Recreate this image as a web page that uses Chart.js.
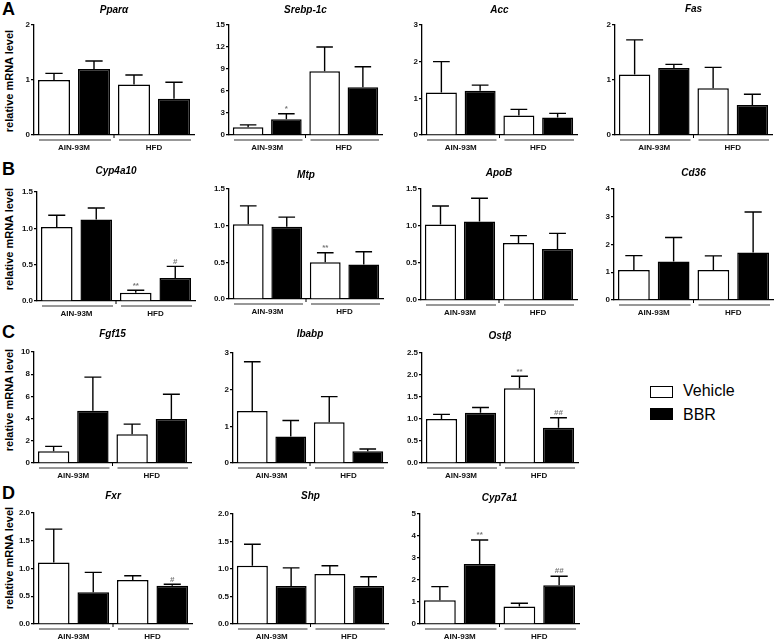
<!DOCTYPE html>
<html><head><meta charset="utf-8">
<script src="https://cdn.jsdelivr.net/npm/chart.js@4.4.0/dist/chart.umd.min.js"></script>
<style>
html,body{margin:0;padding:0;background:#fff;width:775px;height:641px;overflow:hidden;position:relative;font-family:"Liberation Sans",Arial,sans-serif;color:#000;}
canvas{position:absolute;}
.letter{position:absolute;font-weight:bold;font-size:18px;line-height:18px;}
.ytitle{position:absolute;font-weight:bold;font-size:11px;line-height:11px;white-space:nowrap;transform:translate(-50%,-50%) rotate(-90deg);}
.lg{position:absolute;font-size:16px;line-height:16px;}
.box{position:absolute;width:23px;height:12px;border:1.5px solid #000;box-sizing:border-box;}
</style></head><body>
<div class="letter" style="left:2px;top:0px">A</div>
<div class="letter" style="left:2px;top:160px">B</div>
<div class="letter" style="left:2px;top:323px">C</div>
<div class="letter" style="left:2px;top:484px">D</div>
<div class="ytitle" style="left:9px;top:81px">relative mRNA level</div>
<div class="ytitle" style="left:9px;top:239px">relative mRNA level</div>
<div class="ytitle" style="left:9px;top:400px">relative mRNA level</div>
<div class="ytitle" style="left:9px;top:558px">relative mRNA level</div>
<div class="box" style="left:650px;top:386px;background:#fff"></div>
<div class="lg" style="left:683px;top:383px">Vehicle</div>
<div class="box" style="left:650px;top:408px;background:#000"></div>
<div class="lg" style="left:683px;top:407px">BBR</div>
<script>
// ---------- data ----------
const groups = ["AIN-93M", "HFD"];
const series = ["Vehicle", "BBR"];
const genes = ["Pparα","Srebp-1c","Acc","Fas","Cyp4a10","Mtp","ApoB","Cd36","Fgf15","Ibabp","Ostβ","Fxr","Shp","Cyp7a1"];
const vehicleMean = [[1.00,0.92],[1.06,8.7],[1.16,0.53],[1.10,0.85],[1.02,0.115],[1.02,0.50],[1.02,0.77],[1.08,1.08],[1.05,2.6],[1.42,1.11],[1.00,1.70],[1.11,0.795],[1.06,0.91],[1.075,0.80]];
const vehicleSem  = [[0.12,0.17],[0.32,3.3],[0.84,0.17],[0.63,0.38],[0.16,0.032],[0.25,0.13],[0.25,0.10],[0.52,0.51],[0.45,0.9],[1.34,0.70],[0.105,0.27],[0.60,0.075],[0.39,0.15],[0.625,0.14]];
const bbrMean     = [[1.20,0.66],[2.16,6.5],[1.21,0.48],[1.22,0.545],[1.12,0.317],[0.986,0.47],[1.06,0.69],[1.39,1.71],[4.71,3.96],[0.72,0.32],[1.143,0.80],[0.57,0.69],[0.69,0.69],[2.73,1.76]];
const bbrSem      = [[0.145,0.30],[0.73,2.8],[0.15,0.11],[0.065,0.195],[0.16,0.16],[0.13,0.175],[0.315,0.21],[0.86,1.46],[3.03,2.24],[0.44,0.06],[0.117,0.23],[0.36,0.025],[0.33,0.17],[1.09,0.41]];
const vehicleMarks= [["",""],["",""],["",""],["",""],["","**"],["","**"],["",""],["",""],["",""],["",""],["","**"],["",""],["",""],["",""]];
const bbrMarks    = [["",""],["*",""],["",""],["",""],["","#"],["",""],["",""],["",""],["",""],["",""],["","##"],["","#"],["",""],["**","##"]];
const yMax  = [2,15,3,2,1.5,1.5,1.5,4,10,3,2.5,2,2,5];
const yStep = [1,3,1,1,0.5,0.5,0.5,1,2,1,0.5,0.5,0.5,1];

// ---------- layout (plot-area placement on the page) ----------
const layout = [
 {x:34,r:194,t:25,b:135,ty:10},{x:229,r:382,t:25,b:135,ty:10},{x:422,r:577,t:25,b:135,ty:10},{x:615,r:772,t:25,b:135,ty:9},
 {x:37,r:195,t:192,b:301,ty:171},{x:229,r:383,t:189,b:299,ty:175},{x:421,r:577,t:189,b:300,ty:173},{x:614,r:773,t:189,b:300,ty:173},
 {x:34,r:191,t:352,b:463,ty:334},{x:233,r:387,t:353,b:463,ty:334},{x:422,r:578,t:353,b:463,ty:336},
 {x:34,r:192,t:513,b:624,ty:496},{x:233,r:388,t:514,b:624,ty:496},{x:420,r:579,t:514,b:624,ty:498}
];
const FONT = '"Liberation Sans", Arial, sans-serif';
const YW = 30, PT = 28, XH = 18, PR = 2, PB = 10;

function makePlugin(i, canvasTop){
  return {
    id:'panel'+i,
    afterDatasetsDraw(chart){
      const {ctx, scales:{y}} = chart;
      const errs = [vehicleSem[i], bbrSem[i]];
      const marks = [vehicleMarks[i], bbrMarks[i]];
      ctx.save();
      chart.data.datasets.forEach((ds,k)=>{
        chart.getDatasetMeta(k).data.forEach((bar,j)=>{
          const v = ds.data[j];
          const yT = y.getPixelForValue(v + errs[k][j]);
          const half = bar.width*0.27;
          ctx.strokeStyle='#000'; ctx.lineWidth=1.4;
          ctx.beginPath();
          ctx.moveTo(bar.x, bar.y); ctx.lineTo(bar.x, yT);
          ctx.moveTo(bar.x-half, yT); ctx.lineTo(bar.x+half, yT);
          ctx.stroke();
          const m = marks[k][j];
          if(m){
            ctx.fillStyle='#777'; ctx.font='bold 8px '+FONT;
            ctx.textAlign='center'; ctx.textBaseline='bottom';
            ctx.fillText(m, bar.x, yT-1);
          }
        });
      });
      ctx.restore();
    },
    afterDraw(chart){
      const {ctx, chartArea:a} = chart;
      ctx.save();
      ctx.fillStyle='#000'; ctx.font='italic bold 10px '+FONT;
      ctx.textAlign='center'; ctx.textBaseline='middle';
      ctx.fillText(genes[i], (a.left+a.right)/2, layout[i].ty - canvasTop);
      const mid = (a.left+a.right)/2;
      ctx.strokeStyle='#000'; ctx.lineWidth=1;
      ctx.beginPath(); ctx.moveTo(mid, a.bottom); ctx.lineTo(mid, a.bottom+3); ctx.stroke();
      const cw = (a.right-a.left)/2;
      ctx.strokeStyle='#333'; ctx.lineWidth=1.2;
      ctx.beginPath();
      for(let g=0; g<2; g++){
        ctx.moveTo(a.left + g*cw + 5, a.bottom+5);
        ctx.lineTo(a.left + (g+1)*cw - 3, a.bottom+5);
      }
      ctx.stroke();
      ctx.restore();
    }
  };
}

layout.forEach((L,i)=>{
  const c = document.createElement('canvas');
  const W = L.r - L.x + YW + PR, H = PT + (L.b - L.t) + XH + PB;
  const top = L.t - PT;
  c.width = W; c.height = H;
  c.style.left = (L.x - YW)+'px'; c.style.top = top+'px';
  c.style.width = W+'px'; c.style.height = H+'px';
  document.body.appendChild(c);
  new Chart(c, {
    type:'bar',
    data:{
      labels: groups,
      datasets:[
        {label:series[0], data:vehicleMean[i], backgroundColor:'#fff', borderColor:'#000', borderWidth:1.5, categoryPercentage:1, barPercentage:0.8},
        {label:series[1], data:bbrMean[i], backgroundColor:'#000', borderColor:'#000', borderWidth:1.5, categoryPercentage:1, barPercentage:0.8}
      ]
    },
    options:{
      responsive:false, animation:false, devicePixelRatio:1,
      layout:{padding:{top:PT,right:PR,left:0,bottom:PB}},
      plugins:{legend:{display:false}, tooltip:{enabled:false}},
      scales:{
        x:{
          offset:true,
          grid:{display:false},
          border:{display:true,color:'#000',width:1.3},
          ticks:{font:{family:FONT,size:8,weight:'bold'},color:'#111',padding:0,maxRotation:0,autoSkip:false},
          afterFit(s){ s.height = XH; }
        },
        y:{
          min:0, max:yMax[i],
          grid:{display:true,drawOnChartArea:false,drawTicks:true,tickLength:3,color:'#000',lineWidth:1.2},
          border:{display:true,color:'#000',width:1.3},
          ticks:{stepSize:yStep[i],font:{family:FONT,size:8,weight:'bold'},color:'#111',padding:1,
                 callback:(v)=> yStep[i] < 1 ? Number(v).toFixed(1) : String(v)},
          afterFit(s){ s.width = YW; }
        }
      }
    },
    plugins:[makePlugin(i, top)]
  });
});
</script>
</body></html>
